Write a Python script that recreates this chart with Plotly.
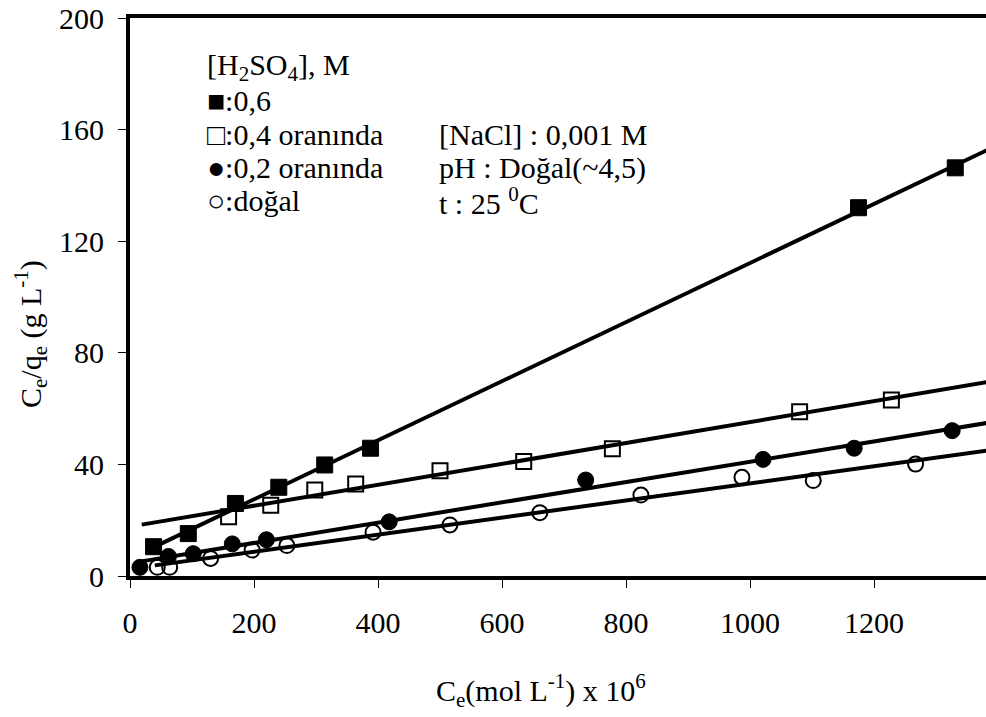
import numpy as np
import plotly.graph_objects as go

# ---- data ----
sq_filled_x = [38, 94, 170, 240, 314, 388, 1175, 1331]
sq_filled_y = [10.5, 15.2, 26.0, 31.8, 39.8, 45.8, 132.0, 146.3]

sq_open_x = [159, 227, 298, 364, 500, 635, 778, 1080, 1228]
sq_open_y = [21.2, 25.4, 30.8, 33.0, 37.7, 41.0, 45.6, 58.9, 63.1]

circ_filled_x = [16, 62, 102, 165, 220, 418, 735, 1021, 1168, 1326]
circ_filled_y = [3.1, 7.0, 8.0, 11.5, 13.0, 19.4, 34.4, 41.8, 45.8, 52.1]

circ_open_x = [44, 64, 130, 197, 253, 392, 516, 661, 824, 987, 1102, 1267]
circ_open_y = [3.1, 3.1, 6.3, 9.3, 10.9, 15.7, 18.3, 22.7, 29.0, 35.4, 34.2, 40.1]

x_ticks = [0, 200, 400, 600, 800, 1000, 1200]
y_ticks = [0, 40, 80, 120, 160, 200]

legend_lines = ["[H<sub>2</sub>SO<sub>4</sub>], M", "■:0,6", "□:0,4 oranında",
                "●:0,2 oranında", "○:doğal"]
cond_lines = ["[NaCl] : 0,001 M", "pH : Doğal(~4,5)", "t : 25 <sup>0</sup>C"]

X_MAX = 1380.6
FONT = "Liberation Serif"
FS = 30

series = [
    (sq_filled_x, sq_filled_y, dict(symbol="square", size=16, color="black",
                                     line=dict(color="black", width=1)), 30),
    (sq_open_x, sq_open_y, dict(symbol="square-open", size=15, color="black",
                                 line=dict(color="black", width=2)), 19),
    (circ_filled_x, circ_filled_y, dict(symbol="circle", size=16, color="black",
                                         line=dict(color="black", width=1)), 16),
    (circ_open_x, circ_open_y, dict(symbol="circle-open", size=15, color="black",
                                     line=dict(color="black", width=2)), 40),
]

fig = go.Figure()
for xs, ys, mk, x0 in series:
    k, b = np.polyfit(xs, ys, 1)
    lx = np.array([x0, 1420.0])
    fig.add_trace(go.Scatter(x=lx, y=k * lx + b, mode="lines",
                             line=dict(color="black", width=4),
                             showlegend=False, hoverinfo="skip"))
for xs, ys, mk, x0 in series:
    fig.add_trace(go.Scatter(x=xs, y=ys, mode="markers", marker=mk,
                             showlegend=False, cliponaxis=True))

# body margin is removed by post_script, so figure pixel = page pixel
W, H = 986, 717
L, T, R = 130, 18, 0
B = H - 576
pw, ph = W - L - R, H - T - B


def px(xp):
    return (xp - L) / pw


def py(yp):
    return 1 - (yp - T) / ph


annotations = []
for i, t in enumerate(legend_lines):
    annotations.append(dict(x=px(205), y=py(67 + 33.5 * i), xref="paper", yref="paper",
                            text=t, showarrow=False, xanchor="left", yanchor="middle",
                            font=dict(family=FONT, size=FS, color="black")))
for i, t in enumerate(cond_lines):
    annotations.append(dict(x=px(437), y=py(67 + 33.5 * (i + 2)), xref="paper", yref="paper",
                            text=t, showarrow=False, xanchor="left", yanchor="middle",
                            font=dict(family=FONT, size=FS, color="black")))

annotations.append(dict(x=px(541), y=py(690), xref="paper", yref="paper",
                        text="C<sub>e</sub>(mol L<sup>-1</sup>) x 10<sup>6</sup>",
                        showarrow=False, xanchor="center", yanchor="middle",
                        font=dict(family=FONT, size=FS, color="black")))
annotations.append(dict(x=px(30), y=py(334), xref="paper", yref="paper",
                        text="C<sub>e</sub>/q<sub>e</sub> (g L<sup>-1</sup>)",
                        textangle=-90, showarrow=False, xanchor="center", yanchor="middle",
                        font=dict(family=FONT, size=FS, color="black")))

fig.update_layout(
    width=W, height=H,
    margin=dict(l=L, r=R, t=T, b=B, pad=0, autoexpand=False),
    paper_bgcolor="white", plot_bgcolor="white",
    font=dict(family=FONT, size=FS, color="black"),
    annotations=annotations,
    xaxis=dict(range=[0, X_MAX], tickvals=x_ticks, ticktext=[str(v) for v in x_ticks],
               automargin=False,
               showgrid=False, zeroline=False, showline=True, linecolor="black",
               linewidth=4, mirror=True, ticks="outside", ticklen=8, tickwidth=1,
               tickcolor="black", ticklabelstandoff=9, ticklabeloverflow="allow",
               tickfont=dict(family=FONT, size=FS, color="black")),
    yaxis=dict(range=[0, 200], tickvals=y_ticks, ticktext=[str(v) for v in y_ticks],
               automargin=False,
               showgrid=False, zeroline=False, showline=True, linecolor="black",
               linewidth=4, ticks="outside", ticklen=8, tickwidth=1,
               tickcolor="black", ticklabelstandoff=8,
               ticklabeloverflow="allow",
               tickfont=dict(family=FONT, size=FS, color="black")),
)

fig.write_html("out.html",
               config={"displayModeBar": False},
               post_script="document.body.style.margin='0';document.body.style.overflow='hidden';")
